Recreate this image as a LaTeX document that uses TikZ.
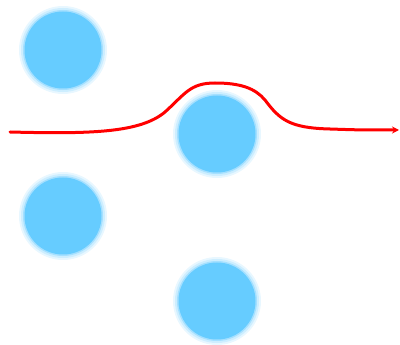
\documentclass[tikz,border=0pt]{standalone}
\usetikzlibrary{arrows.meta}
\definecolor{ballblue}{RGB}{102,204,255}
\definecolor{glowA}{RGB}{232,247,255}
\definecolor{glowB}{RGB}{205,238,255}
\definecolor{glowC}{RGB}{165,224,255}
\definecolor{curvered}{RGB}{255,0,0}
\tikzset{
  ball/.style={circle, fill=ballblue, minimum size=77pt, inner sep=0pt,
    preaction={draw=glowA, line width=11pt},
    preaction={draw=glowB, line width=7pt},
    preaction={draw=glowC, line width=3pt}},
  wave/.style={draw=curvered, line width=3pt, line cap=round,
    -{Stealth[length=7pt,width=7pt]}}
}
\begin{document}
\begin{tikzpicture}[x=1pt,y=-1pt]
\useasboundingbox (0,0) rectangle (400,345);
\node[ball] (b1) at (63,50) {};
\node[ball] (b2) at (217,134) {};
\node[ball] (b3) at (63,216) {};
\node[ball] (b4) at (217,301) {};
\coordinate (s) at (10,132);
\coordinate (e) at (399,130);
\draw[wave] (s) .. controls (90,134) and (140,133) .. (165,112)
  .. controls (185,94) and (190,83) .. (215,83)
  .. controls (240,83) and (255,88) .. (265,100)
  .. controls (280,120) and (290,128) .. (330,129)
  .. controls (360,130) .. (e);
\end{tikzpicture}
\end{document}
